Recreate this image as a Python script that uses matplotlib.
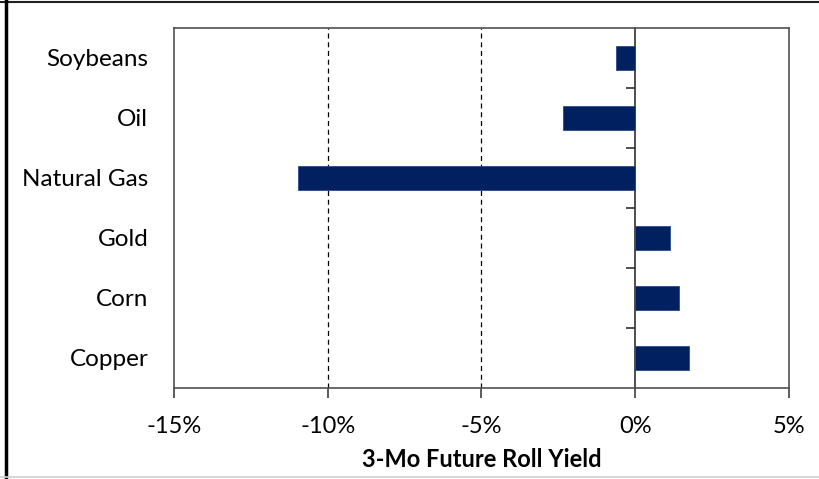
import matplotlib
matplotlib.use("Agg")
import matplotlib.pyplot as plt
from matplotlib.lines import Line2D
from matplotlib.ticker import FuncFormatter

commodities = ["Soybeans", "Oil", "Natural Gas", "Gold", "Corn", "Copper"]
roll_yield = [-0.63, -2.34, -10.98, 1.13, 1.43, 1.76]  # percent

plt.rcParams["font.family"] = ["Lato", "DejaVu Sans"]

fig = plt.figure(figsize=(8.2, 4.79), dpi=100)
ax = fig.add_axes([174 / 820, 1 - 388 / 479, 615 / 820, 360 / 479])

ypos = list(range(len(commodities)))[::-1]
ax.barh(ypos, roll_yield, height=0.4, color="#002060", edgecolor="#2a4a8a",
        linewidth=0.6, zorder=3)

ax.set_xlim(-15, 5)
ax.set_ylim(-0.5, len(commodities) - 0.5)
ax.set_xticks([-15, -10, -5, 0, 5])
ax.xaxis.set_major_formatter(FuncFormatter(lambda v, p: f"{v:.0f}%"))
ax.tick_params(axis="x", direction="out", length=7, width=1.2, color="#404040",
               labelsize=17, pad=13)
ax.set_yticks(ypos)
ax.set_yticklabels(commodities)
ax.tick_params(axis="y", length=0, labelsize=17.5, pad=18.5)

for x in [-10, -5]:
    ax.axvline(x, color="black", linestyle=(0, (4, 3)), linewidth=0.9, zorder=1)

for s in ax.spines.values():
    s.set_color("#505050")
    s.set_linewidth(1.2)

# zero axis with category separators
sec = ax.secondary_yaxis(0.75)
sec.set_alignment("left")
sec.spines["left"].set_visible(True)
sec.spines["left"].set_color("#303030")
sec.spines["left"].set_linewidth(1.2)
sec.set_yticks([i + 0.5 for i in range(len(commodities) - 1)])
sec.tick_params(axis="y", direction="out", length=6.5, width=1.2, color="#303030",
                labelleft=False, labelright=False)

ax.set_xlabel("3-Mo Future Roll Yield", fontsize=17, fontweight="bold", labelpad=8)

# outer border of the picture
fig.add_artist(Line2D([0, 1], [1 - 1.5 / 479, 1 - 1.5 / 479], color="#202020", linewidth=1.5))
fig.add_artist(Line2D([6 / 820, 6 / 820], [0, 1], color="black", linewidth=2.5))
fig.add_artist(Line2D([0, 1], [2 / 479, 2 / 479], color="#d0d0d0", linewidth=1.2))

fig.savefig("out.png", dpi=100)
